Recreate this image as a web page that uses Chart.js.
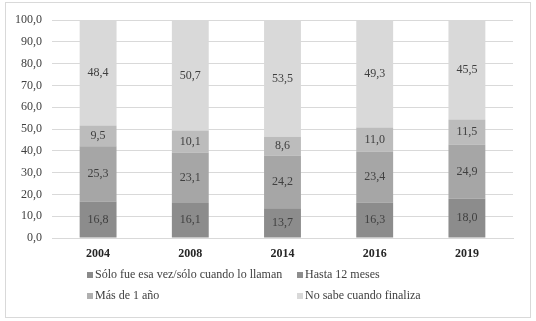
<!DOCTYPE html>
<html lang="es">
<head>
    <meta charset="UTF-8">
    <title>Duración del trabajo</title>
    <script src="https://cdn.jsdelivr.net/npm/chart.js"></script>
    <style>
        body {
            margin: 0;
            background: #fff;
            font-family: "Liberation Serif", "Times New Roman", serif;
        }
        .marco {
            position: absolute;
            left: 5px;
            top: 2px;
            width: 524px;
            height: 314px;
            border: 1px solid #d9d9d9;
        }
        .grafica {
            position: absolute;
            left: 0;
            top: 0;
            width: 524px;
            height: 314px;
        }
        #leyenda {
            position: absolute;
            left: 81px;
            top: 261px;
            display: grid;
            grid-template-columns: 210px auto;
        }
        #leyenda div {
            display: flex;
            align-items: center;
            height: 21px;
            font-size: 12px;
            color: #404040;
            white-space: nowrap;
        }
        #leyenda span {
            display: inline-block;
            width: 6px;
            height: 6px;
            margin-right: 2px;
        }
    </style>
</head>
<body>
    <div class="marco">
        <div class="grafica"><canvas id="grafico"></canvas></div>
        <div id="leyenda"></div>
    </div>

    <script>
        // Datos
        const anios = ['2004', '2008', '2014', '2016', '2019'];
        const soloEsaVez = [16.8, 16.1, 13.7, 16.3, 18.0];
        const hasta12Meses = [25.3, 23.1, 24.2, 23.4, 24.9];
        const masDeUnAnio = [9.5, 10.1, 8.6, 11.0, 11.5];
        const noSabe = [48.4, 50.7, 53.5, 49.3, 45.5];

        const series = ['Sólo fue esa vez/sólo cuando lo llaman', 'Hasta 12 meses', 'Más de 1 año', 'No sabe cuando finaliza'];
        const coloresBarra = ['#8c8c8c', '#a6a6a6', '#bcbcbc', '#d9d9d9'];
        const coloresLeyenda = ['#8a8a8a', '#8e8e8e', '#b0b0b0', '#d9d9d9'];

        const coma = v => v.toFixed(1).replace('.', ',');

        // Etiquetas dentro de cada segmento
        const etiquetasValores = {
            id: 'etiquetasValores',
            afterDatasetsDraw(chart) {
                const ctx = chart.ctx;
                ctx.save();
                ctx.font = '12px "Liberation Serif"';
                ctx.fillStyle = '#404040';
                ctx.textAlign = 'center';
                ctx.textBaseline = 'middle';
                chart.data.datasets.forEach((ds, i) => {
                    chart.getDatasetMeta(i).data.forEach((barra, j) => {
                        const p = barra.getProps(['x', 'y', 'base'], true);
                        ctx.fillText(coma(ds.data[j]), p.x, (p.y + p.base) / 2);
                    });
                });
                ctx.restore();
            }
        };

        const valores = [soloEsaVez, hasta12Meses, masDeUnAnio, noSabe];

        new Chart(document.getElementById('grafico'), {
            type: 'bar',
            data: {
                labels: anios,
                datasets: valores.map((d, i) => ({
                    label: series[i],
                    data: d,
                    backgroundColor: coloresBarra[i],
                    categoryPercentage: 1,
                    barPercentage: 0.4
                }))
            },
            options: {
                responsive: true,
                maintainAspectRatio: false,
                animation: false,
                layout: { padding: { left: 0, top: 15, right: 17, bottom: 49 } },
                plugins: {
                    legend: { display: false },
                    tooltip: { enabled: false }
                },
                scales: {
                    x: {
                        stacked: true,
                        grid: { display: false },
                        border: { color: '#d9d9d9' },
                        ticks: {
                            padding: 1,
                            color: '#262626',
                            font: { family: '"Liberation Serif"', size: 12, weight: 'bold' }
                        },
                        afterFit: s => { s.height = 30; }
                    },
                    y: {
                        stacked: true,
                        min: 0,
                        max: 100,
                        grid: { color: '#d9d9d9', drawTicks: false },
                        border: { display: false },
                        ticks: {
                            stepSize: 10,
                            padding: 10,
                            color: '#404040',
                            font: { family: '"Liberation Serif"', size: 12 },
                            callback: v => coma(v)
                        },
                        afterFit: s => { s.width = 46; }
                    }
                }
            },
            plugins: [etiquetasValores]
        });

        // Leyenda en dos columnas
        const leyenda = document.getElementById('leyenda');
        series.forEach((nombre, i) => {
            const item = document.createElement('div');
            item.innerHTML = '<span style="background:' + coloresLeyenda[i] + '"></span>' + nombre;
            leyenda.appendChild(item);
        });
    </script>
</body>
</html>
